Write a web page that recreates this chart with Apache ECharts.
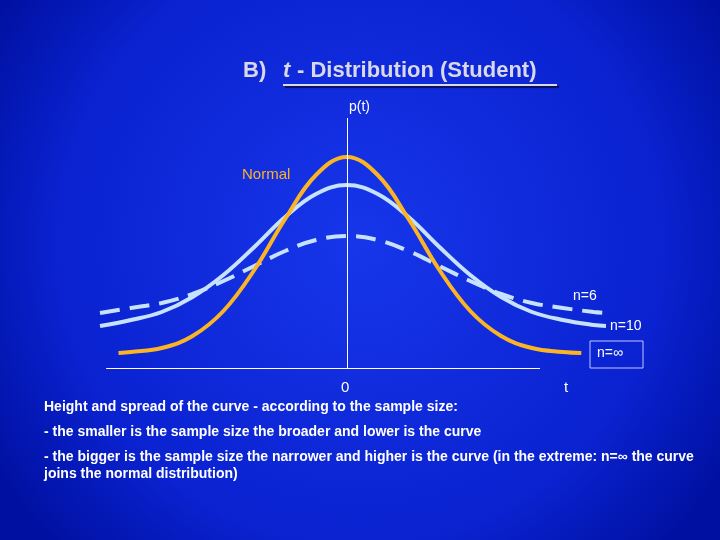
<!DOCTYPE html><html><head><meta charset="utf-8"><script src="https://cdn.jsdelivr.net/npm/echarts@6/dist/echarts.min.js"></script>
<style>html,body{margin:0;padding:0}#c{width:720px;height:540px}</style></head><body><div id="c"></div><script>
var tNormal=[-3.7,-3.5,-3,-2.5,-2,-1.5,-1,-0.5,0,0.5,1,1.5,2,2.5,3,3.5,3.8];
var pNormal=[15,16,20,32,57,98,149,193,211,193,149,98,57,32,20,16,15];
var tWide=[-4,-3.5,-3,-2.5,-2,-1.5,-1,-0.5,0,0.5,1,1.5,2,2.5,3,3.5,4,4.2];
var pN10=[42,48,56,71,93,121,151,174,183,174,151,121,93,71,56,48,43,42];
var pN6=[55,60,65,74,87,102,117,128,132,128,117,102,87,74,65,60,56,55];
var bottomLines=["Height and spread of the curve - according to the sample size:","- the smaller is the sample size the broader and lower is the curve","- the bigger is the sample size the narrower and higher is the curve (in the extreme: n=\u221e the curve","joins the normal distribution)"];
function pts(t,p){return t.map(function(x,i){return [x,p[i]];});}
var ch=echarts.init(document.getElementById('c'));
var F='Liberation Sans, Arial, sans-serif';
var orange='#fbb424', light='#c6e2ff';
var tsh={shadowColor:'rgba(0,0,0,0.6)',shadowOffsetX:2,shadowOffsetY:2,shadowBlur:1};
ch.setOption({
 backgroundColor:{type:'radial',x:0.5,y:0.45,r:0.8,colorStops:[{offset:0,color:'#1736ea'},{offset:0.7,color:'#0a22d0'},{offset:1,color:'#0010a0'}]},
 animation:false,
 grid:{left:100,right:114,top:118,bottom:172},
 xAxis:{type:'value',min:-4,max:4.2,show:false},
 yAxis:{type:'value',min:0,max:250,show:false},
 series:[
  {type:'line',data:pts(tWide,pN6),smooth:0.4,symbol:'none',lineStyle:{color:light,width:4,type:[20,10]},z:2,
   markLine:{silent:true,symbol:'none',label:{show:false},lineStyle:{color:'#ffffff',width:1,type:'solid'},
    data:[[{coord:[-3.9,0]},{coord:[3.13,0]}],[{coord:[0,0]},{coord:[0,250]}]]}},
  {type:'line',data:pts(tWide,pN10),smooth:0.4,symbol:'none',lineStyle:{color:light,width:4},z:3},
  {type:'line',data:pts(tNormal,pNormal),smooth:0.4,symbol:'none',lineStyle:{color:orange,width:4},z:4}
 ],
 graphic:[
  {type:'text',left:243,top:60,style:Object.assign({text:'B)',font:'bold 22px '+F,fill:'#d8d8e8'},tsh)},
  {type:'text',left:283,top:60,style:Object.assign({text:'t',font:'italic bold 22px '+F,fill:'#d8d8e8'},tsh)},
  {type:'text',left:297,top:60,style:Object.assign({text:'- Distribution (Student)',font:'bold 22px '+F,fill:'#d8d8e8'},tsh)},
  {type:'rect',shape:{x:283,y:84,width:274,height:2},style:Object.assign({fill:'#d8d8e8'},tsh)},
  {type:'text',left:349,top:100,style:{text:'p(t)',font:'14px '+F,fill:'#fff'}},
  {type:'text',left:242,top:167,style:{text:'Normal',font:'15px '+F,fill:orange}},
  {type:'text',left:573,top:289,style:{text:'n=6',font:'14px '+F,fill:'#fff'}},
  {type:'text',left:610,top:319,style:{text:'n=10',font:'14px '+F,fill:'#fff'}},
  {type:'rect',shape:{x:590,y:341,width:53,height:27},style:{fill:'none',stroke:'#c0c8ff',lineWidth:1}},
  {type:'text',left:597,top:346,style:{text:'n=\u221e',font:'14px '+F,fill:'#fff'}},
  {type:'text',left:341,top:380,style:{text:'0',font:'15px '+F,fill:'#fff'}},
  {type:'text',left:564,top:380,style:{text:'t',font:'15px '+F,fill:'#fff'}},
  {type:'text',left:44,top:400,style:{text:bottomLines[0],font:'bold 14px '+F,fill:'#fff'}},
  {type:'text',left:44,top:425,style:{text:bottomLines[1],font:'bold 14px '+F,fill:'#fff'}},
  {type:'text',left:44,top:450,style:{text:bottomLines[2],font:'bold 14px '+F,fill:'#fff'}},
  {type:'text',left:44,top:467,style:{text:bottomLines[3],font:'bold 14px '+F,fill:'#fff'}}
 ]
});
</script></body></html>
